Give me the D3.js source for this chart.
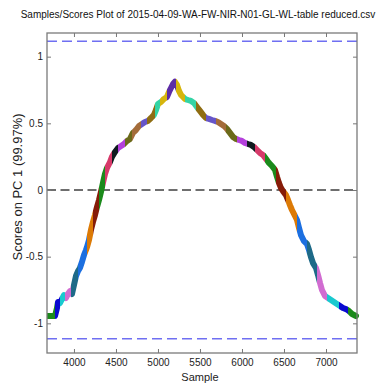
<!DOCTYPE html>
<html><head><meta charset="utf-8">
<script src="https://cdn.jsdelivr.net/npm/d3@7"></script>
<style>body{margin:0;background:#fff;} svg{display:block;font-family:"Liberation Sans",Arial,sans-serif;}</style>
</head><body><svg id="c" width="381" height="388"></svg>
<script>
// Sample index and PC1 score
const samples = [3690,3738,3774,3798,3810,3833,3857,3881,3905,3929,3952,3976,4000,4024,4048,4071,4095,4119,4143,4155,4179,4202,4226,4250,4274,4298,4321,4345,4369,4393,4429,4452,4488,4524,4560,4595,4631,4667,4702,4738,4774,4810,4845,4881,4917,4952,4976,5000,5036,5071,5107,5131,5155,5179,5202,5226,5250,5274,5298,5321,5357,5393,5429,5464,5500,5536,5571,5607,5643,5679,5714,5750,5786,5821,5857,5893,5929,5964,6000,6036,6071,6107,6143,6179,6214,6250,6286,6321,6357,6393,6417,6440,6464,6488,6524,6548,6571,6595,6631,6655,6679,6702,6738,6774,6798,6821,6845,6881,6905,6929,6952,6988,7024,7060,7095,7131,7167,7202,7238,7274,7310,7357];
const scores = [-0.945,-0.945,-0.945,-0.885,-0.84,-0.848,-0.818,-0.788,-0.81,-0.78,-0.758,-0.78,-0.713,-0.645,-0.608,-0.585,-0.54,-0.488,-0.45,-0.428,-0.375,-0.30,-0.24,-0.188,-0.128,-0.075,-0.015,0.053,0.12,0.165,0.21,0.248,0.285,0.315,0.33,0.345,0.368,0.383,0.428,0.45,0.48,0.495,0.51,0.518,0.54,0.563,0.60,0.645,0.66,0.683,0.698,0.735,0.765,0.795,0.812,0.788,0.743,0.713,0.698,0.683,0.675,0.668,0.653,0.623,0.593,0.563,0.54,0.533,0.525,0.518,0.51,0.495,0.48,0.458,0.428,0.398,0.383,0.375,0.368,0.353,0.345,0.338,0.323,0.30,0.278,0.263,0.233,0.203,0.18,0.15,0.098,0.053,0.015,-0.008,-0.038,-0.075,-0.113,-0.15,-0.195,-0.225,-0.285,-0.338,-0.383,-0.405,-0.45,-0.503,-0.548,-0.585,-0.638,-0.698,-0.75,-0.795,-0.81,-0.825,-0.84,-0.855,-0.87,-0.885,-0.893,-0.908,-0.93,-0.945];
// class segments (sample boundaries) and colours
const segBreaks = [3690,3775,3833,3893,3964,4048,4155,4226,4298,4369,4452,4524,4607,4690,4798,4869,4964,5024,5107,5214,5321,5452,5571,5690,5810,5940,6060,6155,6274,6405,6524,6655,6774,6893,7012,7155,7262,7357];
const segColors = ["#1b8a1b","#0a0ad0","#19c9cf","#d16cd1","#1e6a88","#1c6fe0","#dc7a06","#861c08","#1b8a1b","#d63a6a","#0f1a1f","#b440dc","#6b6a1a","#a46c3a","#6655c8","#8f6d12","#34d4a5","#d6b50c","#5c2ca6","#d6b50c","#34d4a5","#8f6d12","#6655c8","#a46c3a","#6b6a1a","#b440dc","#0f1a1f","#d63a6a","#1b8a1b","#861c08","#dc7a06","#1c6fe0","#1e6a88","#d16cd1","#19c9cf","#0a0ad0","#1b8a1b"];
const xTicks = [4000,4500,5000,5500,6000,6500,7000];
const yTicks = [-1,-0.5,0,0.5,1];
const limit = 1.115;
const titleText = "Samples/Scores Plot of 2015-04-09-WA-FW-NIR-N01-GL-WL-table reduced.csv";
const yLabel = "Scores on PC 1 (99.97%)";
const xLabel = "Sample";

const L=47,R=357,T=33,B=353;
const svg = d3.select("#c");
const x = d3.scaleLinear().domain([3679,7369]).range([L,R]);
const y = d3.scaleLinear().domain([-1.2225,1.1775]).range([B,T]);

const defs = svg.append("defs");
defs.append("clipPath").attr("id","plotclip").append("rect").attr("x",L).attr("y",T).attr("width",R-L).attr("height",B-T);

// reference lines
const g = svg.append("g").attr("clip-path","url(#plotclip)");
[limit,-limit].forEach(v=>{
  g.append("line").attr("x1",L).attr("x2",R).attr("y1",y(v)).attr("y2",y(v))
   .attr("stroke","#6f6ff2").attr("stroke-width",1.5).attr("stroke-dasharray","10,5");
});
g.append("line").attr("x1",L).attr("x2",R).attr("y1",y(0)).attr("y2",y(0))
 .attr("stroke","#6e6e6e").attr("stroke-width",2).attr("stroke-dasharray","9,4.5");

// data
const pts = samples.map((s,i)=>[s,scores[i]]);
const line = d3.line().x(d=>x(d[0])).y(d=>y(d[1])).curve(d3.curveLinear);
segColors.forEach((c,i)=>{
  const x0 = i===0 ? L : x(segBreaks[i]);
  const x1 = i===segColors.length-1 ? R+6 : x(segBreaks[i+1]);
  defs.append("clipPath").attr("id","seg"+i).append("rect")
    .attr("x",x0).attr("y",0).attr("width",x1-x0).attr("height",388);
  svg.append("path").datum(pts).attr("d",line).attr("fill","none")
    .attr("stroke",c).attr("stroke-width",6).attr("stroke-linecap","round").attr("stroke-linejoin","round")
    .attr("clip-path","url(#seg"+i+")");
});

// axes
const fmt = d=>String(d);
const axB = svg.append("g").attr("transform",`translate(0,${B})`).call(d3.axisBottom(x).tickValues(xTicks).tickFormat(fmt).tickSize(-4).tickPadding(6));
const axT = svg.append("g").attr("transform",`translate(0,${T})`).call(d3.axisTop(x).tickValues(xTicks).tickFormat("").tickSize(-4));
const axLf = svg.append("g").attr("transform",`translate(${L},0)`).call(d3.axisLeft(y).tickValues(yTicks).tickFormat(fmt).tickSize(-4).tickPadding(4));
const axRt = svg.append("g").attr("transform",`translate(${R},0)`).call(d3.axisRight(y).tickValues(yTicks).tickFormat("").tickSize(-4));
[axB,axT,axLf,axRt].forEach(a=>{
  a.select(".domain").remove();
  a.selectAll(".tick line").attr("stroke","#777");
  a.selectAll(".tick text").attr("fill","#222").style("font-size","10px").style("font-family","'Liberation Sans',Arial,sans-serif");
});
svg.append("rect").attr("x",L).attr("y",T).attr("width",R-L).attr("height",B-T)
  .attr("fill","none").attr("stroke","#7a7a7a").attr("stroke-width",1.3);

// texts
svg.append("text").attr("x",198).attr("y",18).attr("text-anchor","middle")
  .style("font-size","10px").attr("fill","#111").text(titleText);
svg.append("text").attr("transform","translate(22,187) rotate(-90)").attr("text-anchor","middle")
  .attr("textLength",147).attr("lengthAdjust","spacingAndGlyphs")
  .style("font-size","12px").attr("fill","#222").text(yLabel);
svg.append("text").attr("x",200).attr("y",381).attr("text-anchor","middle")
  .style("font-size","11px").attr("fill","#222").text(xLabel);
</script></body></html>
